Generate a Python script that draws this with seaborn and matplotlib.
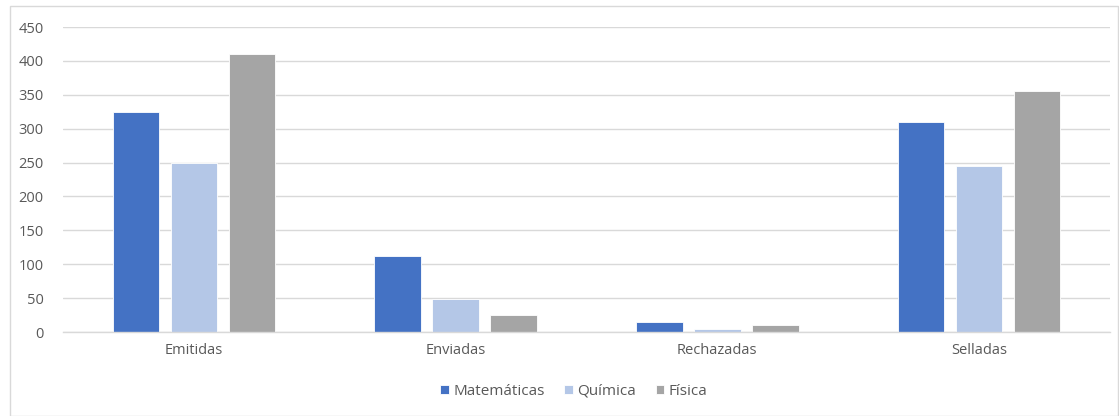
import matplotlib.pyplot as plt
import pandas as pd
import seaborn as sns
from matplotlib.patches import Rectangle

categories = ['Emitidas', 'Enviadas', 'Rechazadas', 'Selladas']
series = ['Matemáticas', 'Química', 'Física']
matematicas = [325, 112, 15, 310]
quimica = [250, 49, 4, 245]
fisica = [410, 25, 10, 355]
colors = ['#4472C4', '#B4C7E7', '#A5A5A5']

df = pd.DataFrame({
    'categoria': categories * 3,
    'serie': [s for s in series for _ in categories],
    'valor': matematicas + quimica + fisica,
})

sns.set_style('white')
plt.rcParams['font.family'] = ['Open Sans', 'DejaVu Sans']

fig = plt.figure(figsize=(11.19, 4.16), dpi=100)
ax = fig.add_axes([63 / 1119, 84 / 416, 1047 / 1119, 305 / 416])

sns.barplot(data=df, x='categoria', y='valor', hue='serie', order=categories,
            hue_order=series, palette=colors, saturation=1, width=0.665, gap=0.2,
            edgecolor='white', linewidth=0.6, ax=ax)

ax.set_ylim(0, 450)
ax.set_yticks(range(0, 451, 50))
ax.set_xlim(-0.5, 3.5)
ax.set_xlabel('')
ax.set_ylabel('')
ax.yaxis.grid(True, color='#D9D9D9', linewidth=1)
ax.set_axisbelow(True)
for s in ['top', 'right', 'left']:
    ax.spines[s].set_visible(False)
ax.spines['bottom'].set_color('#D9D9D9')
ax.spines['bottom'].set_linewidth(1)
ax.tick_params(axis='both', length=0, labelsize=10.5, colors='#595959', pad=8)
ax.tick_params(axis='y', pad=14)

ax.legend(loc='upper center', bbox_to_anchor=(0.488, -0.125), ncol=3, frameon=False,
          fontsize=11, handlelength=0.55, handleheight=0.55, handletextpad=0.3,
          columnspacing=1.3, labelcolor='#595959')

fig.patches.append(Rectangle((10 / 1119, 0), 1108 / 1119, 410 / 416,
                             transform=fig.transFigure, fill=False,
                             edgecolor='#D9D9D9', linewidth=1))

fig.savefig('out.png', dpi=100)
